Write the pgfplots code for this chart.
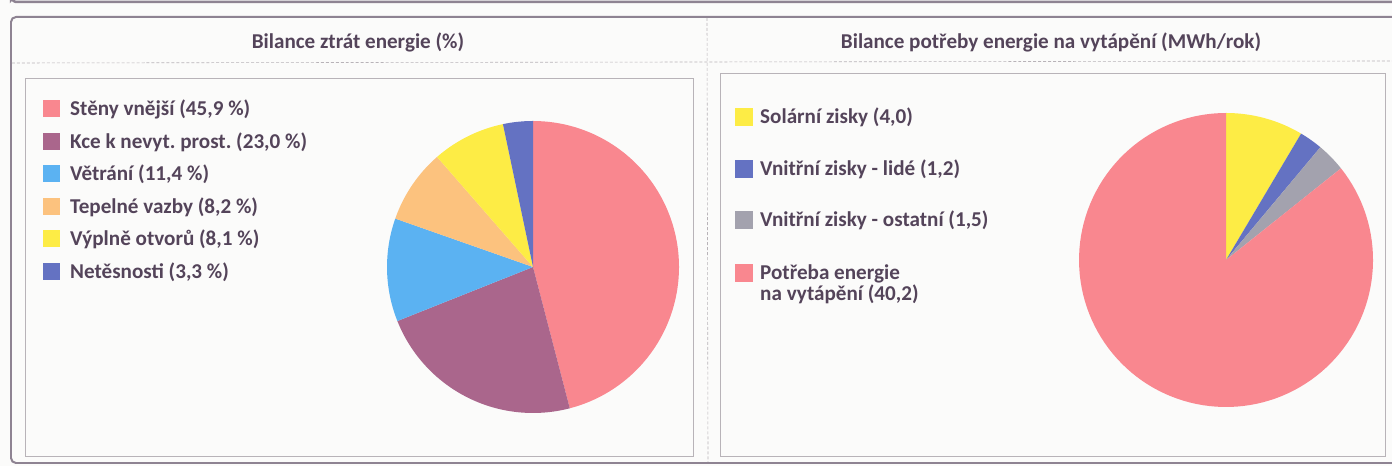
\documentclass[border=0pt]{standalone}
\usepackage{pgfplots}
\pgfplotsset{compat=1.18}
\usepackage{fontspec}
\setmainfont{Carlito}
\frenchspacing
\definecolor{txt}{HTML}{54445A}
\definecolor{cred}{HTML}{F9878F}
\definecolor{cmauve}{HTML}{AA668C}
\definecolor{cblue}{HTML}{5BB2F2}
\definecolor{corange}{HTML}{FCC27E}
\definecolor{cyellow}{HTML}{FDEC45}
\definecolor{cviolet}{HTML}{6472C2}
\definecolor{cgray}{HTML}{A3A2AE}
\definecolor{framec}{HTML}{8E8392}
\definecolor{gridc}{HTML}{B8B3B8}
\definecolor{paper}{HTML}{FBFBFA}
\newcommand{\lf}{\bfseries\fontsize{21.2}{24}\selectfont}
\pgfplotsset{panel/.style={scale only axis, height=466bp, ymin=0, ymax=466,
  y dir=reverse, hide axis, clip=false, anchor=south west}}
\begin{document}
\begin{tikzpicture}[x=1bp,y=1bp]
\useasboundingbox (0,0) rectangle (1392,466);
\clip (0,0) rectangle (1392,466);
\fill[paper] (0,0) rectangle (1392,466);
\begin{scope}[shift={(0,466)}, yscale=-1]
  % remnant of previous frame
  \draw[framec, line width=2.5] (11,-6) -- (11,0) to[out=-90,in=180] (16,2) -- (1400,2);
  % outer frame
  \draw[framec, line width=2, rounded corners=5] (1400,17) -- (11,17) -- (11,463) -- (1400,463);
  % dividers
  \draw[gridc, dash pattern=on 3pt off 2pt, line width=0.6] (12,63) -- (1392,61);
  \draw[gridc, dash pattern=on 3pt off 2pt, line width=0.6] (707,18) -- (708,462);
  % inner boxes
  \draw[gridc, line width=0.8] (25,78) rectangle (693,456);
  \draw[gridc, line width=0.8] (720,73) rectangle (1385,456);
\end{scope}
% ---------- left chart: Bilance ztrát energie (%) ----------
% values: 45.9, 23.0, 11.4, 8.2, 8.1, 3.3 (sum 99.9) -> cumulative angles clockwise from top
\begin{axis}[panel, at={(0,0)}, width=707bp, xmin=0, xmax=707]
  \addplot[fill=cred, draw=none, domain=0:165.41, samples=80, variable=\t]
    ({533+146*sin(t)}, {267-146*cos(t)}) -- (533,267) -- cycle;
  \addplot[fill=cmauve, draw=none, domain=165.41:248.29, samples=50, variable=\t]
    ({533+146*sin(t)}, {267-146*cos(t)}) -- (533,267) -- cycle;
  \addplot[fill=cblue, draw=none, domain=248.29:289.37, samples=30, variable=\t]
    ({533+146*sin(t)}, {267-146*cos(t)}) -- (533,267) -- cycle;
  \addplot[fill=corange, draw=none, domain=289.37:318.92, samples=25, variable=\t]
    ({533+146*sin(t)}, {267-146*cos(t)}) -- (533,267) -- cycle;
  \addplot[fill=cyellow, draw=none, domain=318.92:348.11, samples=25, variable=\t]
    ({533+146*sin(t)}, {267-146*cos(t)}) -- (533,267) -- cycle;
  \addplot[fill=cviolet, draw=none, domain=348.11:360, samples=12, variable=\t]
    ({533+146*sin(t)}, {267-146*cos(t)}) -- (533,267) -- cycle;
  \node[font=\lf, text=txt, anchor=base] at (358,49) {Bilance ztrát energie (\%)};
  \fill[cred] (43,100) rectangle (60,117);
  \node[font=\lf, text=txt, anchor=base west, inner sep=0] at (70,116) {Stěny vnější (45,9 \%)};
  \fill[cmauve] (43,133) rectangle (60,150);
  \node[font=\lf, text=txt, anchor=base west, inner sep=0] at (70,148.5) {Kce k nevyt.\ prost. (23,0 \%)};
  \fill[cblue] (43,165) rectangle (60,182);
  \node[font=\lf, text=txt, anchor=base west, inner sep=0] at (70,181) {Větrání (11,4 \%)};
  \fill[corange] (43,198) rectangle (60,215);
  \node[font=\lf, text=txt, anchor=base west, inner sep=0] at (70,213.5) {Tepelné vazby (8,2 \%)};
  \fill[cyellow] (43,230) rectangle (60,247);
  \node[font=\lf, text=txt, anchor=base west, inner sep=0] at (70,246) {Výplně otvorů (8,1 \%)};
  \fill[cviolet] (43,263) rectangle (60,280);
  \node[font=\lf, text=txt, anchor=base west, inner sep=0] at (70,278.5) {Netěsnosti (3,3 \%)};
\end{axis}
% ---------- right chart: Bilance potřeby energie na vytápění ----------
% values: 4.0, 1.2, 1.5, 40.2 (sum 46.9)
\begin{axis}[panel, at={(707bp,0)}, width=685bp, xmin=707, xmax=1392]
  \addplot[fill=cyellow, draw=none, domain=0:30.70, samples=25, variable=\t]
    ({1226+147*sin(t)}, {260-147*cos(t)}) -- (1226,260) -- cycle;
  \addplot[fill=cviolet, draw=none, domain=30.70:39.91, samples=10, variable=\t]
    ({1226+147*sin(t)}, {260-147*cos(t)}) -- (1226,260) -- cycle;
  \addplot[fill=cgray, draw=none, domain=39.91:51.43, samples=10, variable=\t]
    ({1226+147*sin(t)}, {260-147*cos(t)}) -- (1226,260) -- cycle;
  \addplot[fill=cred, draw=none, domain=51.43:360, samples=120, variable=\t]
    ({1226+147*sin(t)}, {260-147*cos(t)}) -- (1226,260) -- cycle;
  \node[font=\lf, text=txt, anchor=base] at (1051,49) {Bilance potřeby energie na vytápění (MWh/rok)};
  \fill[cyellow] (735,108) rectangle (753,126);
  \node[font=\lf, text=txt, anchor=base west, inner sep=0] at (760,124) {Solární zisky (4,0)};
  \fill[cviolet] (735,160) rectangle (753,178);
  \node[font=\lf, text=txt, anchor=base west, inner sep=0] at (760,176) {Vnitřní zisky - lidé (1,2)};
  \fill[cgray] (735,211) rectangle (753,229);
  \node[font=\lf, text=txt, anchor=base west, inner sep=0] at (760,227) {Vnitřní zisky - ostatní (1,5)};
  \fill[cred] (735,264) rectangle (753,282);
  \node[font=\lf, text=txt, anchor=base west, inner sep=0] at (760,280) {Potřeba energie};
  \node[font=\lf, text=txt, anchor=base west, inner sep=0] at (760,301) {na vytápění (40,2)};
\end{axis}
\end{tikzpicture}
\end{document}
